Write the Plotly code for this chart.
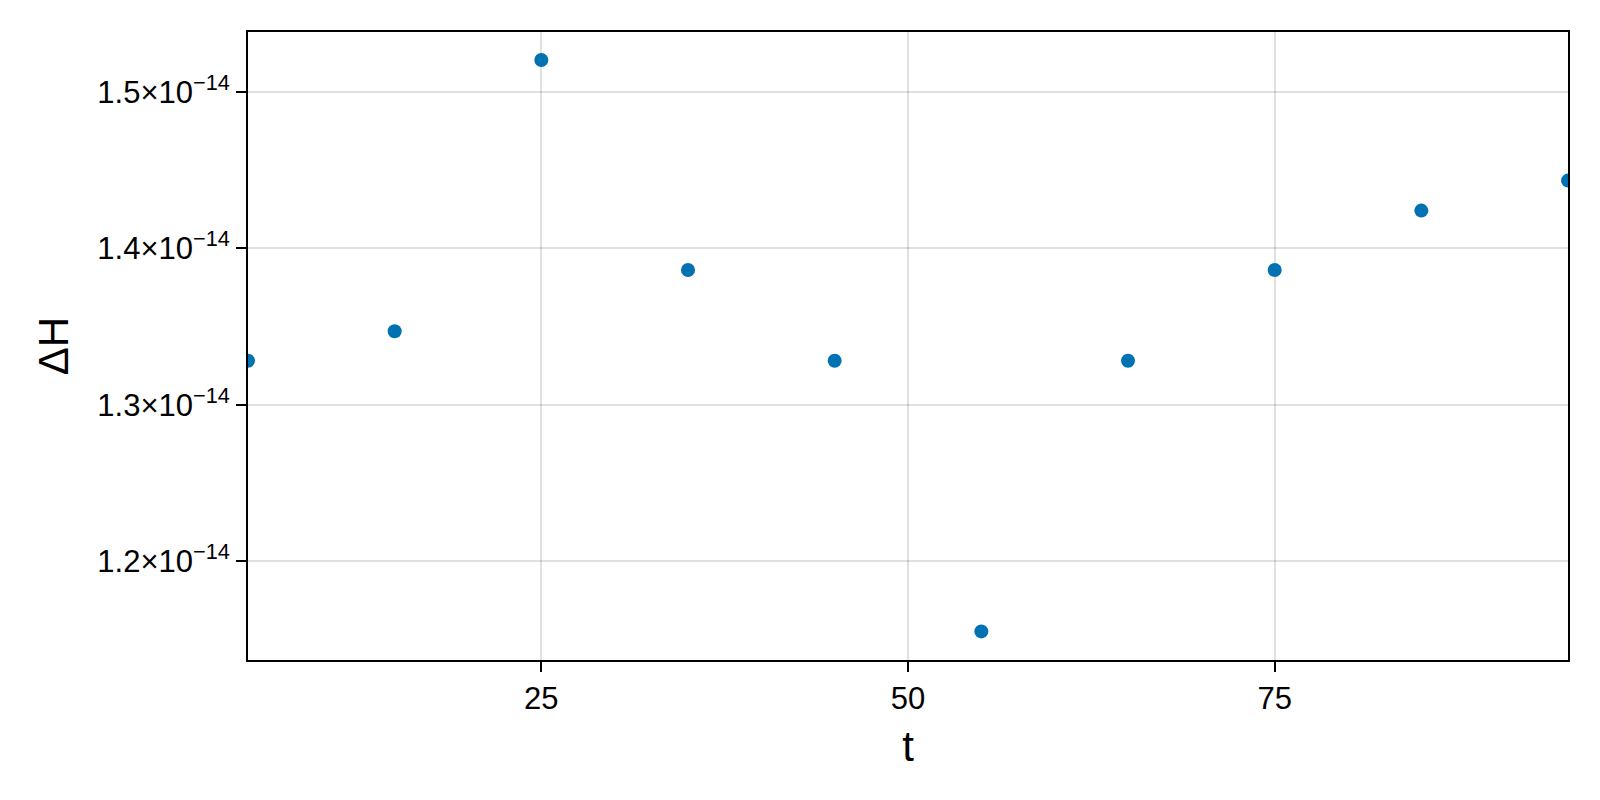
import plotly.graph_objects as go

# time samples and energy error
t = [5, 15, 25, 35, 45, 55, 65, 75, 85, 95]
dH = [1.3281e-14, 1.3470e-14, 1.5204e-14, 1.3861e-14, 1.3281e-14,
      1.1551e-14, 1.3281e-14, 1.3861e-14, 1.4241e-14, 1.4433e-14]

x_ticks = [25, 50, 75]
y_ticks = [1.2e-14, 1.3e-14, 1.4e-14, 1.5e-14]
y_ticktext = ["1.2×10<sup>−14</sup>", "1.3×10<sup>−14</sup>",
              "1.4×10<sup>−14</sup>", "1.5×10<sup>−14</sup>"]

fig = go.Figure()
fig.add_trace(
    go.Scatter(
        x=t,
        y=dH,
        mode="markers",
        marker=dict(color="rgb(0,114,178)", size=14),
        showlegend=False,
    )
)

axis_style = dict(
    showline=True,
    linecolor="black",
    linewidth=2,
    mirror=True,
    ticks="outside",
    ticklen=10,
    tickwidth=2,
    tickcolor="black",
    showgrid=True,
    gridcolor="rgba(0,0,0,0.12)",
    gridwidth=2,
    zeroline=False,
    tickfont=dict(size=31, color="black"),
)

# page body has an 8px margin, so the figure is 8px smaller and margins shifted
fig.update_layout(
    width=1592,
    height=792,
    margin=dict(l=240, r=32, t=24, b=140),
    plot_bgcolor="white",
    paper_bgcolor="white",
    font=dict(family="Liberation Sans, Arial, sans-serif", color="black"),
    xaxis=dict(
        axis_style,
        range=[5, 95],
        tickvals=x_ticks,
        title=dict(text="t", font=dict(size=42), standoff=16),
    ),
    yaxis=dict(
        axis_style,
        range=[1.1368e-14, 1.5383e-14],
        tickvals=y_ticks,
        ticktext=y_ticktext,
        title=dict(text="ΔH", font=dict(size=42), standoff=16),
    ),
)

fig.write_html("out.html")
